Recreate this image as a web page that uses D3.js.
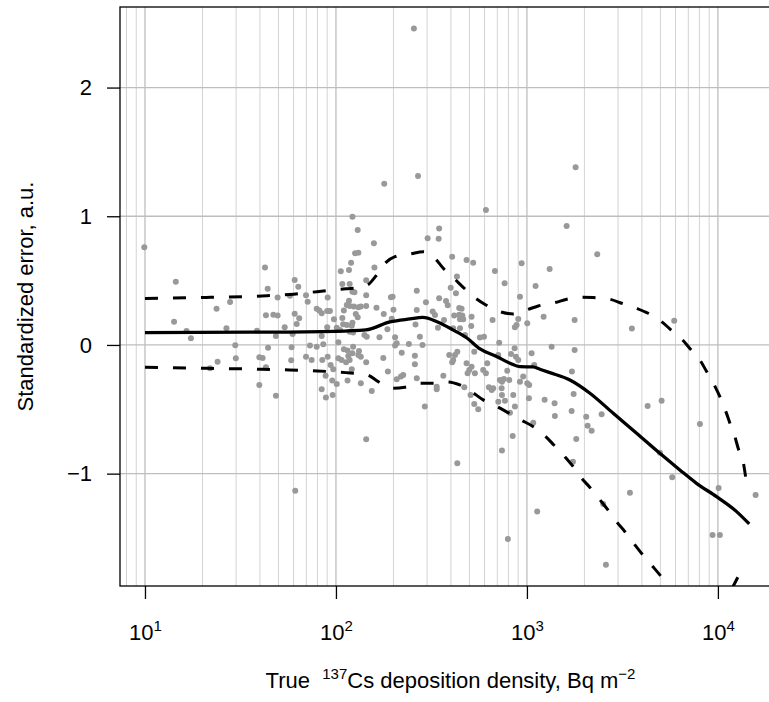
<!DOCTYPE html>
<html><head><meta charset="utf-8">
<script src="https://cdn.jsdelivr.net/npm/d3@7"></script>
<style>
body{margin:0;background:#fff;}
text{font-family:"Liberation Sans",Arial,Helvetica,sans-serif;fill:#000;}
</style>
</head><body><svg id="chart" width="769" height="702"></svg>
<script>
// ---- data ----
const pointX = [9.92,14.5,14.2,16.5,17.4,23.7,27.9,26.7,29.7,29.9,24.0,21.9,42.5,43.9,49.5,43.0,47.0,49.5,53.9,38.6,48.5,44.1,39.7,41.3,43.0,39.7,48.5,60.8,63.5,57.4,60.8,64.2,62.3,59.3,58.6,58.3,61.2,
122,130,158,126,131,120,106,117,159,108,118,144,122,125,69.7,71.1,90.5,144,194,198,265,117,114,118,124,131,135,144,79.3,81.8,84.2,90.0,93.0,110,163,200,265,127,130,108,97.6,178,196,122,121,109,114,90.0,101,105,84.2,118,123,141,145,169,204,261,186,
73.1,79.3,85.8,103,204,208,241,69.7,74.6,84.8,90.5,103,107,110,115,123,122,116,118,132,131,135,113,144,177,221,259,259,93.8,96.8,121,187,88.3,95.6,101,115,135,208,219,225,265,154,84.2,88.6,96.1,144,
610,347,345,302,406,483,523,938,680,430,764,399,425,1110,919,347,296,377,385,442,455,321,330,416,442,459,446,464,513,368,661,901,342,511,1004,865,883,275,411,446,474,567,596,
284,292,337,337,365,392,411,420,432,406,470,483,499,489,513,534,507,530,556,530,590,610,620,632,654,666,708,716,722,758,808,740,789,737,740,708,767,815,848,865,842,740,825,876,901,862,919,956,1004,1028,1024,1058,1092,1079,
1799,1614,2334,1315,1223,1777,3545,5904,1347,1777,1720,1238,1396,1756,1401,1714,2044,2079,2182,2461,1812,1741,4285,5073,8050,4970,5765,3462,2509,1132,10090,15760,9380,10240,2592,
256,179,269,432,795];
const pointY = [0.759,0.492,0.181,0.109,0.052,0.282,0.334,0.130,-0.002,-0.103,-0.130,-0.181,0.601,0.437,0.368,0.231,0.235,0.228,0.138,0.111,0.070,-0.021,-0.096,-0.101,-0.173,-0.311,-0.394,0.505,0.453,0.383,0.243,0.207,0.163,0.085,-0.018,-0.119,-1.132,
0.997,0.894,0.790,0.713,0.717,0.639,0.573,0.583,0.601,0.474,0.474,0.503,0.414,0.409,0.386,0.336,0.368,0.386,0.371,0.375,0.422,0.344,0.311,0.303,0.298,0.293,0.298,0.303,0.282,0.267,0.246,0.264,0.264,0.267,0.290,0.274,0.272,0.241,0.215,0.210,0.200,0.241,0.204,0.173,0.150,0.161,0.155,0.138,0.134,0.117,0.070,0.103,0.096,0.078,0.064,0.060,0.060,0.158,0.122,
-0.005,-0.013,0.005,0.021,-0.005,0.013,0.008,-0.091,-0.117,-0.117,-0.091,-0.103,-0.117,-0.033,-0.044,-0.013,-0.064,-0.085,-0.117,-0.047,-0.078,-0.091,-0.134,-0.134,-0.101,-0.060,-0.083,-0.150,-0.155,-0.189,-0.189,-0.207,-0.239,-0.277,-0.303,-0.277,-0.298,-0.267,-0.246,-0.233,-0.259,-0.357,-0.344,-0.409,-0.389,-0.733,
1.049,0.904,0.826,0.829,0.686,0.660,0.639,0.635,0.575,0.531,0.479,0.445,0.402,0.458,0.375,0.363,0.332,0.342,0.308,0.287,0.282,0.259,0.233,0.228,0.235,0.228,0.200,0.200,0.220,0.194,0.194,0.202,0.134,0.148,0.169,0.138,0.155,0.064,0.130,0.130,0.078,0.057,0.064,
0.000,-0.479,-0.324,-0.344,-0.239,-0.078,-0.117,-0.078,-0.052,-0.134,-0.329,-0.142,-0.194,-0.220,-0.169,-0.220,-0.389,-0.458,-0.500,-0.052,-0.194,-0.220,-0.142,-0.329,-0.350,-0.336,-0.078,0.018,-0.272,-0.264,-0.272,-0.285,-0.200,-0.336,-0.389,-0.441,-0.433,-0.526,-0.389,-0.479,-0.707,-0.821,-0.070,-0.091,-0.117,-0.026,-0.285,-0.246,-0.298,-0.311,-0.414,-0.064,-0.155,-0.604,
1.381,0.925,0.705,0.591,0.220,0.194,0.127,0.189,-0.013,-0.039,-0.207,-0.425,-0.453,-0.381,-0.552,-0.513,-0.557,-0.627,-0.666,-0.538,-0.730,-0.907,-0.474,-0.433,-0.614,-0.837,-1.028,-1.148,-1.235,-1.295,-1.111,-1.166,-1.476,-1.476,-1.707,
2.458,1.253,1.313,-0.919,-1.507];

const fitX = [10,35.4,98.8,143.5,191.9,243.9,285,338,410,485,568,697,815,919,1075,1169,1318,1679,2138,2831,3753,4966,6320,7727,9840,12530,14590];
const fitY = [0.096,0.099,0.106,0.117,0.179,0.202,0.214,0.181,0.117,0.054,-0.031,-0.091,-0.142,-0.169,-0.171,-0.189,-0.215,-0.272,-0.375,-0.531,-0.686,-0.842,-0.971,-1.075,-1.179,-1.295,-1.391];

const upperX = [10,20.9,41.0,57.4,79.6,112.8,130.3,146.5,161.8,180.8,203.8,246,286.6,329.8,364.6,420,463.9,545.4,610,722,848,995,1146,1402,1616,1933,2223,2723,3135,3750,4315,5070,5650,6530,7190,8050,8730,9570,10240,11010,11560,12280,12770,13560,13960];
const upperY = [0.361,0.369,0.381,0.392,0.414,0.437,0.443,0.466,0.536,0.635,0.686,0.707,0.725,0.674,0.596,0.510,0.448,0.357,0.311,0.259,0.241,0.272,0.303,0.329,0.355,0.371,0.368,0.355,0.324,0.285,0.246,0.181,0.120,0.039,-0.033,-0.117,-0.207,-0.311,-0.402,-0.518,-0.608,-0.713,-0.803,-0.907,-1.023];

const lowerX = [10,20.9,41.0,56.8,79.6,112.8,133.6,146.5,166.4,198.6,229.6,275.4,322.3,385.7,445.5,514.8,590.3,696.6,800,930,1075,1227,1384,1581,1735,1933,2138,2412,2655,2972,3260,3675,4046,4571,4966,5957,7586,9640,11560,12910,13840];
const lowerY = [-0.173,-0.181,-0.189,-0.194,-0.202,-0.215,-0.225,-0.233,-0.285,-0.336,-0.329,-0.298,-0.298,-0.287,-0.311,-0.365,-0.427,-0.478,-0.528,-0.583,-0.633,-0.699,-0.777,-0.868,-0.940,-1.036,-1.107,-1.204,-1.282,-1.381,-1.451,-1.554,-1.632,-1.723,-1.787,-1.943,-2.07,-2.07,-1.92,-1.787,-1.704];

const xTickValues = [10, 100, 1000, 10000];
const xTickExponents = ["1", "2", "3", "4"];
const yTickValues = [-1, 0, 1, 2];
const yTickLabels = ["\u22121", "0", "1", "2"];
const xDomain = [7.40, 21400];
const yDomain = [-1.873, 2.626];

// ---- layout ----
const svg = d3.select("#chart");
const plot = {left: 120, top: 7, right: 781, bottom: 586};
const x = d3.scaleLog().domain(xDomain).range([plot.left, plot.right]);
const y = d3.scaleLinear().domain(yDomain).range([plot.bottom, plot.top]);

svg.append("rect").attr("width", 769).attr("height", 702).attr("fill", "#fff");
svg.append("defs").append("clipPath").attr("id", "clip")
  .append("rect").attr("x", plot.left).attr("y", plot.top)
  .attr("width", plot.right - plot.left).attr("height", plot.bottom - plot.top);

const g = svg.append("g").attr("clip-path", "url(#clip)");

// grid
const minor = [];
for (let e = 0; e <= 4; e++) for (let k = 2; k <= 9; k++) minor.push(k * Math.pow(10, e));
g.selectAll("line.minor").data(minor.filter(v => v > xDomain[0] && v < xDomain[1]))
  .join("line").attr("class", "minor")
  .attr("x1", d => x(d)).attr("x2", d => x(d)).attr("y1", plot.top).attr("y2", plot.bottom)
  .attr("stroke", "#d3d3d3").attr("stroke-width", 1);
g.selectAll("line.major").data(xTickValues)
  .join("line").attr("class", "major")
  .attr("x1", d => x(d)).attr("x2", d => x(d)).attr("y1", plot.top).attr("y2", plot.bottom)
  .attr("stroke", "#bebebe").attr("stroke-width", 1.3);
g.selectAll("line.hgrid").data(yTickValues)
  .join("line").attr("class", "hgrid")
  .attr("x1", plot.left).attr("x2", plot.right).attr("y1", d => y(d)).attr("y2", d => y(d))
  .attr("stroke", "#bebebe").attr("stroke-width", 1.3);

// points
g.selectAll("circle").data(d3.range(pointX.length))
  .join("circle")
  .attr("cx", i => x(pointX[i])).attr("cy", i => y(pointY[i]))
  .attr("r", 3).attr("fill", "#999999");

// curves
const line = d3.line().x(d => x(d[0])).y(d => y(d[1])).curve(d3.curveMonotoneX);
const zip = (a, b) => a.map((v, i) => [v, b[i]]);
g.append("path").datum(zip(upperX, upperY)).attr("d", line)
  .attr("fill", "none").attr("stroke", "#000").attr("stroke-width", 3)
  .attr("stroke-dasharray", "13,15");
g.append("path").datum(zip(lowerX, lowerY)).attr("d", line)
  .attr("fill", "none").attr("stroke", "#000").attr("stroke-width", 3)
  .attr("stroke-dasharray", "13,15");
g.append("path").datum(zip(fitX, fitY)).attr("d", line)
  .attr("fill", "none").attr("stroke", "#000").attr("stroke-width", 3.3)
  .attr("stroke-linejoin", "round");

// box
svg.append("rect").attr("x", plot.left).attr("y", plot.top)
  .attr("width", plot.right - plot.left).attr("height", plot.bottom - plot.top)
  .attr("fill", "none").attr("stroke", "#000").attr("stroke-width", 1.3);

// axes
const fs = 22;
const xAxis = svg.append("g").attr("transform", `translate(0,${plot.bottom})`)
  .call(d3.axisBottom(x).tickValues(xTickValues).tickSize(13).tickSizeOuter(0).tickFormat(""));
xAxis.select(".domain").remove();
xAxis.selectAll(".tick line").attr("stroke", "#000").attr("stroke-width", 1.3);
xAxis.selectAll(".tick").each(function(d, i) {
  const t = d3.select(this).select("text");
  t.attr("y", 54).attr("dy", 0).attr("font-size", fs).attr("text-anchor", "middle").text(null);
  t.append("tspan").text("10");
  t.append("tspan").attr("dy", -9).attr("font-size", 15).text(xTickExponents[i]);
});

const yAxis = svg.append("g").attr("transform", `translate(${plot.left},0)`)
  .call(d3.axisLeft(y).tickValues(yTickValues).tickSize(13).tickPadding(15).tickSizeOuter(0)
    .tickFormat((d, i) => yTickLabels[i]));
yAxis.select(".domain").remove();
yAxis.selectAll(".tick line").attr("stroke", "#000").attr("stroke-width", 1.3);
yAxis.selectAll(".tick text").attr("font-size", fs).attr("fill", "#000");

// titles
svg.append("text").attr("transform", `translate(33,${(plot.top + plot.bottom) / 2}) rotate(-90)`)
  .attr("text-anchor", "middle").attr("font-size", fs)
  .text("Standardized error, a.u.");
const xt = svg.append("text").attr("x", (plot.left + plot.right) / 2).attr("y", 688)
  .attr("text-anchor", "middle").attr("font-size", fs);
xt.append("tspan").text("True\u00a0\u00a0");
xt.append("tspan").attr("dy", -9).attr("font-size", 15).text("137");
xt.append("tspan").attr("dy", 9).text("Cs deposition density, Bq m");
xt.append("tspan").attr("dy", -9).attr("font-size", 15).text("\u22122");
</script>
</body></html>
